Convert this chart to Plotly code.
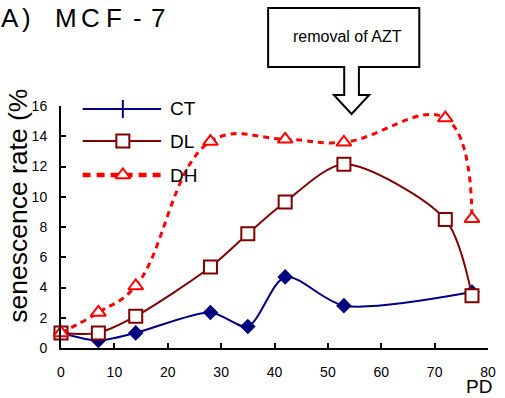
import plotly.graph_objects as go

# Senescence rate (%) versus population doublings (PD) for MCF-7 cells
pd_ct = [0, 7, 14, 28, 35, 42, 53, 77]
rate_ct = [1.0, 0.5, 1.0, 2.35, 1.42, 4.7, 2.8, 3.7]

pd_dl = [0, 7, 14, 28, 35, 42, 53, 72, 77]
rate_dl = [1.0, 1.0, 2.1, 5.35, 7.55, 9.65, 12.15, 8.5, 3.45]

pd_dh = [0, 7, 14, 28, 42, 53, 72, 77]
rate_dh = [1.0, 2.35, 4.1, 13.65, 13.8, 13.6, 15.2, 8.55]

series_names = ["CT", "DL", "DH"]
x_ticks = list(range(0, 81, 10))
y_ticks = list(range(0, 17, 2))

W, H = 505, 398
L, R, T, B = 61, 9, 106, 50
PW, PH = W - L - R, H - T - B
FONT = "Liberation Sans, Arial, sans-serif"
NAVY, MAROON, RED = "#000080", "#800000", "#FF0000"


def px(x):
    """Figure pixel column -> paper x."""
    return (x - L) / PW


def py(y):
    """Figure pixel row (from top) -> paper y."""
    return (H - B - y) / PH


def label(x, y, text, font, **kw):
    kw.setdefault("xanchor", "center")
    kw.setdefault("yanchor", "middle")
    fig.add_annotation(x=px(x), y=py(y), xref="paper", yref="paper", text=text,
                       showarrow=False, font=font, **kw)


fig = go.Figure()

# data series
fig.add_trace(go.Scatter(
    x=pd_ct, y=rate_ct, mode="lines+markers", name=series_names[0],
    line=dict(color=NAVY, width=2, shape="spline", smoothing=0.8),
    marker=dict(symbol="diamond", size=12, color=NAVY),
    cliponaxis=False, showlegend=False))
fig.add_trace(go.Scatter(
    x=pd_dl, y=rate_dl, mode="lines+markers", name=series_names[1],
    line=dict(color=MAROON, width=2, shape="spline", smoothing=0.8),
    marker=dict(symbol="square", size=13, color="white",
                line=dict(color=MAROON, width=2)),
    cliponaxis=False, showlegend=False))
fig.add_trace(go.Scatter(
    x=pd_dh, y=rate_dh, mode="lines+markers", name=series_names[2],
    line=dict(color=RED, width=3, dash="6px,5px", shape="spline", smoothing=1.2),
    marker=dict(symbol="triangle-up", size=13, color="white",
                line=dict(color=RED, width=2)),
    cliponaxis=False, showlegend=False))

# key drawn on a pixel-unit overlay (x2/y2)
key_x0, key_x1, key_mid, key_text_x = 83, 163, 124, 170
key_rows = [109, 141, 175]
key_styles = [
    (dict(color=NAVY, width=2),
     dict(symbol="line-ns", size=13, color=NAVY, line=dict(color=NAVY, width=2))),
    (dict(color=MAROON, width=2),
     dict(symbol="square", size=13, color="white", line=dict(color=MAROON, width=2))),
    (dict(color=RED, width=4.5, dash="8px,6px"),
     dict(symbol="triangle-up", size=13, color="white", line=dict(color=RED, width=2))),
]
for name, ky, (ln, mk) in zip(series_names, key_rows, key_styles):
    fig.add_trace(go.Scatter(
        x=[key_x0, key_x1], y=[ky, ky], mode="lines", line=ln,
        xaxis="x2", yaxis="y2", cliponaxis=False, showlegend=False,
        hoverinfo="skip"))
    fig.add_trace(go.Scatter(
        x=[key_mid], y=[ky], mode="markers", marker=mk,
        xaxis="x2", yaxis="y2", cliponaxis=False, showlegend=False,
        hoverinfo="skip"))
    label(key_text_x, ky, name, dict(family=FONT, size=19, color="black"),
          xanchor="left")

# "removal of AZT" callout box with a downward arrow
bx0, bx1, by0, by1 = 272, 426, 8, 67
sx0, sx1, hx0, hx1, hy, tipx, tipy = 349.5, 364.5, 339, 375, 95, 357, 114
outline = [(bx0, by0), (bx1, by0), (bx1, by1), (sx1, by1), (sx1, hy), (hx1, hy),
           (tipx, tipy), (hx0, hy), (sx0, hy), (sx0, by1), (bx0, by1)]
callout = "M" + " L".join(f"{px(a):.5f},{py(b):.5f}" for a, b in outline) + " Z"
fig.add_shape(type="path", path=callout, xref="paper", yref="paper",
              line=dict(color="black", width=2), fillcolor="white", layer="above")
label((bx0 + bx1) / 2 + 4, 36, "removal of AZT",
      dict(family=FONT, size=16, color="black"))

# panel label, spaced glyph by glyph
title_font = dict(family=FONT, size=26, color="black")
for ch, cx in zip(["A", ")", "M", "C", "F", "-", "7"],
                  [9.5, 25.5, 66, 91, 115.5, 138.5, 159.5]):
    label(cx, 18, ch, title_font)

# axis titles
label(17, 206, "senescence rate (%",
      dict(family=FONT, size=26.5, color="black"), textangle=-90)
label(487, 386, "PD", dict(family=FONT, size=19, color="black"))

axis_common = dict(showgrid=False, zeroline=False, showline=True, linecolor="black",
                   linewidth=2, ticks="inside", ticklen=5, tickwidth=1.5,
                   tickcolor="black",
                   tickfont=dict(family=FONT, size=14, color="black"))

fig.update_layout(
    width=W, height=H,
    margin=dict(l=L, r=R, t=T, b=B, pad=0),
    paper_bgcolor="white", plot_bgcolor="white",
    showlegend=False,
    xaxis=dict(range=[0, 80], tickvals=x_ticks, ticklabelstandoff=10,
               **axis_common),
    yaxis=dict(range=[0, 16], tickvals=y_ticks, ticklabelstandoff=9,
               **axis_common),
    xaxis2=dict(overlaying="x", range=[L, W - R], visible=False, anchor="y2"),
    yaxis2=dict(overlaying="y", range=[H - B, T], visible=False, anchor="x2"),
)

fig.write_html("out.html")
